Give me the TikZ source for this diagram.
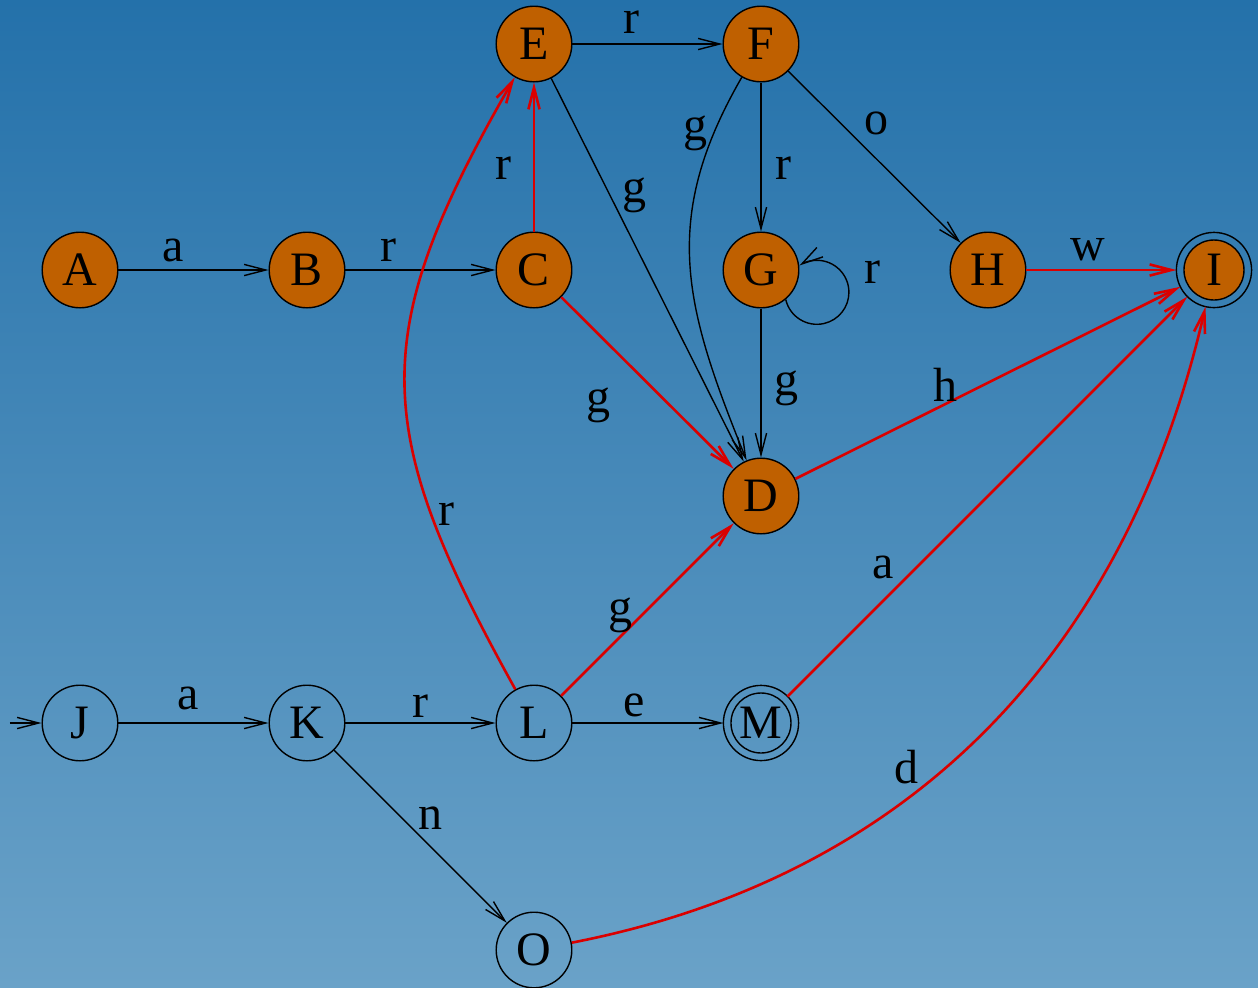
\documentclass[tikz,border=0pt]{standalone}
\usepackage{fontspec}
\setmainfont{Liberation Serif}
\usetikzlibrary{arrows.meta}
\definecolor{bgtop}{RGB}{36,113,170}
\definecolor{bgbot}{RGB}{106,162,200}
\definecolor{stfill}{RGB}{191,96,0}
\definecolor{redline}{RGB}{218,0,0}
\begin{document}
\begin{tikzpicture}[x=0.25pt,y=0.25pt,
  every node/.style={font=\fontsize{12}{14}\selectfont},
  st/.style={circle, draw=black, line width=0.35pt, minimum size=18.9pt, inner sep=0pt},
  done/.style={st, fill=stfill},
  acc/.style={circle, draw=black, line width=0.35pt, minimum size=15pt, inner sep=0pt, outer sep=1.9pt},
  ring/.style={draw=black, line width=0.35pt},
  tr/.style={draw=black, line width=0.35pt, -{Straight Barb[length=5.4pt,width=2.8pt]}},
  hot/.style={draw=redline, line width=0.65pt, -{Straight Barb[length=5.4pt,width=2.8pt]}},
  lbl/.style={inner sep=0pt},
]
\shade[top color=bgtop, bottom color=bgbot] (0,0) rectangle (1258,-988);
\useasboundingbox (0,0) rectangle (1258,-988);

% states
\node[done] (A) at (80,-270) {A};
\node[done] (B) at (307,-270) {B};
\node[done] (C) at (534,-270) {C};
\node[done] (E) at (534,-44) {E};
\node[done] (F) at (761,-44) {F};
\node[done] (G) at (761,-270) {G};
\node[done] (H) at (988,-270) {H};
\node[acc, fill=stfill] (I) at (1214,-270) {I};
\node[done] (D) at (761,-496) {D};
\node[st] (J) at (80,-723) {J};
\node[st] (K) at (307,-723) {K};
\node[st] (L) at (534,-723) {L};
\node[acc] (M) at (761,-723) {M};
\node[st] (O) at (534,-950) {O};
\draw[ring] (I.center) circle[radius=9.4pt];
\draw[ring] (M.center) circle[radius=9.4pt];

% initial arrow
\coordinate (J0) at (10,-723);
\draw[tr] (J0) -- (J);

% black transitions
\draw[tr] (A) -- node[lbl, pos=.364, shift={(0,20)}] {a} (B);
\draw[tr] (B) -- node[lbl, pos=.285, shift={(0,20)}] {r} (C);
\draw[tr] (E) -- node[lbl, pos=.39, shift={(0,22)}] {r} (F);
\draw[tr] (F) -- node[lbl, pos=.573, shift={(22,0)}] {r} (G);
\draw[tr] (F) -- node[lbl, pos=.41, shift={(18,18)}] {o} (H);
\draw[tr] (E) -- node[lbl, pos=.331, shift={(20,10)}] {g} (D);
\draw[tr] (F) to[out=-120, in=112, looseness=1.1] node[lbl, pos=.15, shift={(-16,5)}] {g} (D);
\draw[tr] (G) -- node[lbl, pos=.533, shift={(26,0)}] {g} (D);
\draw[tr] (G.-50) arc[start angle=193, end angle=360, radius=32]
  node[lbl, shift={(24,20)}] {r}
  arc[start angle=0, end angle=123, radius=32];
\draw[tr] (J) -- node[lbl, pos=.464, shift={(0,25)}] {a} (K);
\draw[tr] (K) -- node[lbl, pos=.497, shift={(0,17)}] {r} (L);
\draw[tr] (L) -- node[lbl, pos=.41, shift={(0,18)}] {e} (M);
\draw[tr] (K) -- node[lbl, pos=.474, shift={(14,14)}] {n} (O);

% red transitions
\draw[hot] (C) -- node[lbl, pos=.427, shift={(-31,0)}] {r} (E);
\draw[hot] (H) -- node[lbl, pos=.407, shift={(0,20)}] {w} (I);
\draw[hot] (C) -- node[lbl, pos=.42, shift={(-35.5,-35.9)}] {g} (D);
\draw[hot] (D) -- node[lbl, pos=.41, shift={(-7.8,15.2)}] {h} (I);
\draw[hot] (M) -- node[lbl, pos=.28, shift={(-16.5,16.5)}] {a} (I);
\draw[hot] (O) to[out=11, in=-103] node[lbl, pos=.4, shift={(-14,21)}] {d} (I);
\draw[hot] (L) to[out=119, in=-120, looseness=1.25] node[lbl, pos=.25, shift={(13,6)}] {r} (E);
\draw[hot] (L) -- node[lbl, pos=.405, shift={(-11,11)}] {g} (D);
\end{tikzpicture}
\end{document}
